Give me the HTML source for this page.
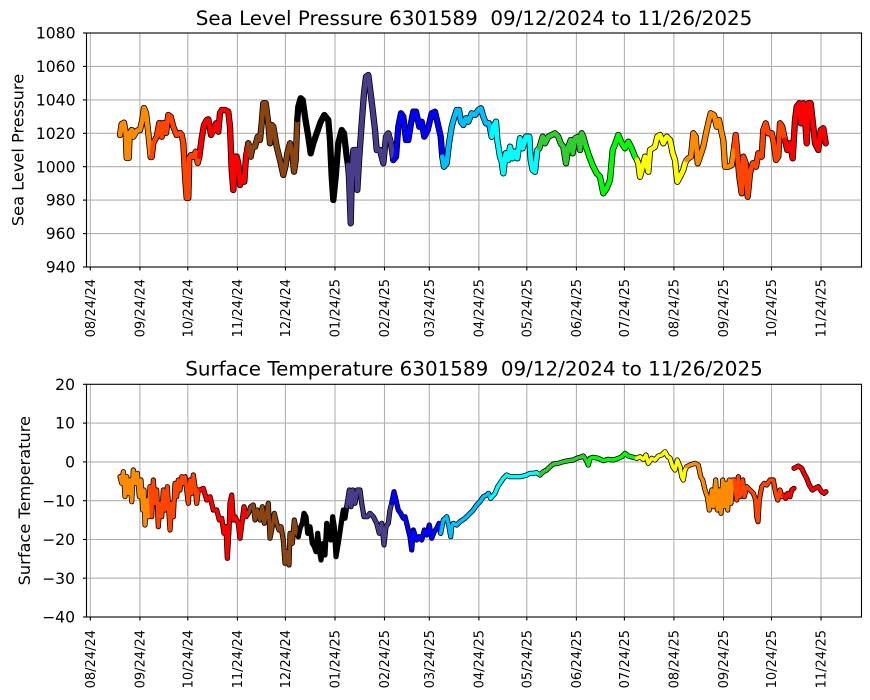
<!DOCTYPE html>
<html><head><meta charset="utf-8"><style>
html,body{margin:0;padding:0;background:#fff;}
svg{display:block;font-family:"DejaVu Sans","Liberation Sans",sans-serif;}
.g{stroke:#b0b0b0;stroke-width:1.1;}
.ax{fill:none;stroke:#000;stroke-width:1.1;}
.tk{stroke:#000;stroke-width:1.1;}
.yt{font-size:15.6px;text-anchor:end;}
.xt{font-size:13px;text-anchor:end;}
.ti{font-size:19.9px;text-anchor:middle;white-space:pre;}
.yl{font-size:16.2px;text-anchor:middle;}
.b1 polyline{fill:none;stroke:#000;stroke-width:6.3;stroke-linejoin:round;stroke-linecap:round;}
.c1 polyline{fill:none;stroke-width:4.7;stroke-linejoin:round;stroke-linecap:round;}
.b2 polyline{fill:none;stroke:#000;stroke-width:5.2;stroke-linejoin:round;stroke-linecap:round;}
.c2 polyline{fill:none;stroke-width:3.6;stroke-linejoin:round;stroke-linecap:round;}
</style></head><body>
<svg width="870" height="700" viewBox="0 0 870 700" xmlns="http://www.w3.org/2000/svg" xml:space="preserve">
<rect width="870" height="700" fill="#fff"/>

<!-- ================= TOP CHART ================= -->
<g>
<g class="g">
<line x1="90.3" y1="33" x2="90.3" y2="267"/><line x1="139.9" y1="33" x2="139.9" y2="267"/><line x1="187.8" y1="33" x2="187.8" y2="267"/><line x1="237.4" y1="33" x2="237.4" y2="267"/><line x1="285.4" y1="33" x2="285.4" y2="267"/><line x1="335" y1="33" x2="335" y2="267"/><line x1="384.5" y1="33" x2="384.5" y2="267"/><line x1="429.3" y1="33" x2="429.3" y2="267"/><line x1="478.9" y1="33" x2="478.9" y2="267"/><line x1="526.8" y1="33" x2="526.8" y2="267"/><line x1="576.4" y1="33" x2="576.4" y2="267"/><line x1="624.4" y1="33" x2="624.4" y2="267"/><line x1="673.9" y1="33" x2="673.9" y2="267"/><line x1="723.5" y1="33" x2="723.5" y2="267"/><line x1="771.5" y1="33" x2="771.5" y2="267"/><line x1="821" y1="33" x2="821" y2="267"/>
<line x1="86.5" y1="66.4" x2="861.5" y2="66.4"/><line x1="86.5" y1="99.9" x2="861.5" y2="99.9"/><line x1="86.5" y1="133.3" x2="861.5" y2="133.3"/><line x1="86.5" y1="166.7" x2="861.5" y2="166.7"/><line x1="86.5" y1="200.1" x2="861.5" y2="200.1"/><line x1="86.5" y1="233.6" x2="861.5" y2="233.6"/>
</g>
<g class="b1">
<polyline points="120,135 121.7,124 124,122.7 125.7,133 126.7,158 128.7,158 129.7,133 131.7,130 133.3,136.7 136.7,130.7 140,130 142.3,120 144,108 146,113 148.3,133 150.7,157"/>
<polyline points="150.7,157 151.7,157 153.3,143 156.7,136.7 159.3,123 161.7,136.7 163.3,123 166,133 168.3,115 170.7,116.7 173.3,126.7 176.7,135 180,133 181.7,135 183.3,143 185.3,180 186.7,198 188.3,198 189.3,158 191,155 193.3,156.7 195.7,151.7 197.7,163 199.3,156.7"/>
<polyline points="199.3,156.7 201.7,138.3 204,125 206.7,120 208.3,119.3 211,135 213.3,130 216,123.3 218.3,131.7 220,113 221.7,110 225,110 228.3,111.7 230,126.7 231.7,170 233.3,190 235,156.7 236.7,156.7 238.3,163.3 240,185 242.3,176.7 244.3,181.7 246,156.7 248.3,143.3"/>
<polyline points="248.3,143.3 250.7,156.7 252.7,146.7 255,146.7 257.7,136.7 260,140 261.7,123.3 263.3,103.3 265.7,103.3 268.3,123.3 270,143.3 271.7,125 273.3,126.7 275,136.7 276.7,146.7 280,160 283.3,175 285.7,165 287.3,153.3 290,143.3 292.3,153.3 294,171.7 295.7,160 297.3,120"/>
<polyline points="297.3,120 298.3,106.7 300.7,98.3 302.7,100 305,116.7 308.3,136.7 310.7,153.3 313.3,143.3 316.7,133.3 320.7,121.7 324.3,115 328.3,120 330,140 331.7,176.7 333.3,200 335.7,176.7 338.3,143.3 341.7,130 344,133.3 346.7,156.7 348,165"/>
<polyline points="348,165 349,176.7 350.7,223.3 351.7,180 353.3,150 356,150 357.3,190 359.3,156.7 361.7,123.3 364,93.3 366,76.7 368.3,75 370,88.3 372.7,110 375,130 376.7,150 380,150 383.3,163.3 386,136.7 388.3,133.3 391,143.3 393.3,160"/>
<polyline points="393.3,160 396,156.7 398.3,126.7 401,113.3 403.3,116.7 406,140 408.3,140 411,123.3 413.3,111.7 416,111.7 419.3,126.7 421.7,121.7 424.3,136.7 427.7,130 431.7,113.3 435,111.7 437.7,123.3 440.7,136.7 442.3,156.7"/>
<polyline points="442.3,156.7 444,166.7 446.7,163.3 449,143.3 451.7,126.7 454,118.3 456.7,110 459,110 461,121.7 463.3,125 466,118.3 468.3,121.7 471.7,113.3 475,115 478.3,110 481,108.3 483.3,116.7 486,123.3 489,123.3 491.7,136.7"/>
<polyline points="491.7,136.7 493.3,126.7 496,121.7 497.3,140 500,156.7 501.7,161.7 503.3,173.3 505.7,153.3 508.3,160 510,146.7 512.7,158.3 515,151.7 517.3,158.3 520,138.3 522.7,148.3 526,136.7 529.3,136.7 530.7,160 532.7,170 535,171.7 537.3,150 539.3,148.3"/>
<polyline points="539.3,148.3 542.7,136.7 545,143.3 548.3,136.7 551.7,135 555,133.3 558.3,136.7 560.7,143.3 563.3,146.7 566,163.3 568.3,146.7 570.7,140 572.7,153.3 575,138.3 578.3,136.7 580,150 581.7,133.3 583.3,136.7 586,146.7"/>
<polyline points="586,146.7 589.3,156.7 593.3,166.7 596.7,173.3 600,176.7 603.3,193.3 606.7,188.3 610,180 612.7,150 616,141.7 618.3,135 621.7,143.3 625,148.3 628.3,141.7 631.7,148.3 635,156.7 637,160"/>
<polyline points="637,160 638.3,163.3 640,176.7 642.7,166.7 645,156.7 648.3,171.7 650,150 655,146.7 657.3,136.7 660,135 663.3,143.3 666.7,136.7 670,140 672.7,153.3 675,160 677.3,181.7 680,176.7 683.3,170 685,163.3 686.7,160"/>
<polyline points="686.7,160 688.3,158.3 691,156.7 693.3,133.3 695.7,136.7 697.7,163.3 700,156.7 703.3,146.7 706,133.3 708.3,123.3 710.7,113.3 714,115 716.7,126.7 719,120 721.7,133.3 723.3,140 725,166.7 728.3,166.7 731.7,165 734.3,146.7"/>
<polyline points="734.3,146.7 735.7,135 737.3,153.3 739.3,176.7 741.7,193.3 743.3,156.7 745.7,163.3 747.7,196.7 750,173.3 752.7,163.3 756,166.7 758.3,153.3 761.7,156.7 763.3,130 765.7,123.3 768.3,133.3 771.7,133.3 773.3,140 776,160 778.3,156.7 780,123.3 782.3,126.7 785,140"/>
<polyline points="785,140 787.3,150 790,143.3 792.7,158.3 795,120 796.7,106.7 799.3,103.3 801,123.3 803.3,103.3 805.3,123.3 806.7,143.3 808.3,103.3 810.7,103.3 813.3,126.7 815,143.3 818.3,150 820.7,130 823.3,128.3 825.7,143.3"/>
</g>
<g class="c1">
<polyline stroke="#FF8C00" points="120,135 121.7,124 124,122.7 125.7,133 126.7,158 128.7,158 129.7,133 131.7,130 133.3,136.7 136.7,130.7 140,130 142.3,120 144,108 146,113 148.3,133 150.7,157"/>
<polyline stroke="#FF4500" points="150.7,157 151.7,157 153.3,143 156.7,136.7 159.3,123 161.7,136.7 163.3,123 166,133 168.3,115 170.7,116.7 173.3,126.7 176.7,135 180,133 181.7,135 183.3,143 185.3,180 186.7,198 188.3,198 189.3,158 191,155 193.3,156.7 195.7,151.7 197.7,163 199.3,156.7"/>
<polyline stroke="#FF0000" points="199.3,156.7 201.7,138.3 204,125 206.7,120 208.3,119.3 211,135 213.3,130 216,123.3 218.3,131.7 220,113 221.7,110 225,110 228.3,111.7 230,126.7 231.7,170 233.3,190 235,156.7 236.7,156.7 238.3,163.3 240,185 242.3,176.7 244.3,181.7 246,156.7 248.3,143.3"/>
<polyline stroke="#8B4513" points="248.3,143.3 250.7,156.7 252.7,146.7 255,146.7 257.7,136.7 260,140 261.7,123.3 263.3,103.3 265.7,103.3 268.3,123.3 270,143.3 271.7,125 273.3,126.7 275,136.7 276.7,146.7 280,160 283.3,175 285.7,165 287.3,153.3 290,143.3 292.3,153.3 294,171.7 295.7,160 297.3,120"/>
<polyline stroke="#000000" points="297.3,120 298.3,106.7 300.7,98.3 302.7,100 305,116.7 308.3,136.7 310.7,153.3 313.3,143.3 316.7,133.3 320.7,121.7 324.3,115 328.3,120 330,140 331.7,176.7 333.3,200 335.7,176.7 338.3,143.3 341.7,130 344,133.3 346.7,156.7 348,165"/>
<polyline stroke="#483D8B" points="348,165 349,176.7 350.7,223.3 351.7,180 353.3,150 356,150 357.3,190 359.3,156.7 361.7,123.3 364,93.3 366,76.7 368.3,75 370,88.3 372.7,110 375,130 376.7,150 380,150 383.3,163.3 386,136.7 388.3,133.3 391,143.3 393.3,160"/>
<polyline stroke="#0000FF" points="393.3,160 396,156.7 398.3,126.7 401,113.3 403.3,116.7 406,140 408.3,140 411,123.3 413.3,111.7 416,111.7 419.3,126.7 421.7,121.7 424.3,136.7 427.7,130 431.7,113.3 435,111.7 437.7,123.3 440.7,136.7 442.3,156.7"/>
<polyline stroke="#00BFFF" points="442.3,156.7 444,166.7 446.7,163.3 449,143.3 451.7,126.7 454,118.3 456.7,110 459,110 461,121.7 463.3,125 466,118.3 468.3,121.7 471.7,113.3 475,115 478.3,110 481,108.3 483.3,116.7 486,123.3 489,123.3 491.7,136.7"/>
<polyline stroke="#00FFFF" points="491.7,136.7 493.3,126.7 496,121.7 497.3,140 500,156.7 501.7,161.7 503.3,173.3 505.7,153.3 508.3,160 510,146.7 512.7,158.3 515,151.7 517.3,158.3 520,138.3 522.7,148.3 526,136.7 529.3,136.7 530.7,160 532.7,170 535,171.7 537.3,150 539.3,148.3"/>
<polyline stroke="#32CD32" points="539.3,148.3 542.7,136.7 545,143.3 548.3,136.7 551.7,135 555,133.3 558.3,136.7 560.7,143.3 563.3,146.7 566,163.3 568.3,146.7 570.7,140 572.7,153.3 575,138.3 578.3,136.7 580,150 581.7,133.3 583.3,136.7 586,146.7"/>
<polyline stroke="#00FF00" points="586,146.7 589.3,156.7 593.3,166.7 596.7,173.3 600,176.7 603.3,193.3 606.7,188.3 610,180 612.7,150 616,141.7 618.3,135 621.7,143.3 625,148.3 628.3,141.7 631.7,148.3 635,156.7 637,160"/>
<polyline stroke="#FFFF00" points="637,160 638.3,163.3 640,176.7 642.7,166.7 645,156.7 648.3,171.7 650,150 655,146.7 657.3,136.7 660,135 663.3,143.3 666.7,136.7 670,140 672.7,153.3 675,160 677.3,181.7 680,176.7 683.3,170 685,163.3 686.7,160"/>
<polyline stroke="#FF8C00" points="686.7,160 688.3,158.3 691,156.7 693.3,133.3 695.7,136.7 697.7,163.3 700,156.7 703.3,146.7 706,133.3 708.3,123.3 710.7,113.3 714,115 716.7,126.7 719,120 721.7,133.3 723.3,140 725,166.7 728.3,166.7 731.7,165 734.3,146.7"/>
<polyline stroke="#FF4500" points="734.3,146.7 735.7,135 737.3,153.3 739.3,176.7 741.7,193.3 743.3,156.7 745.7,163.3 747.7,196.7 750,173.3 752.7,163.3 756,166.7 758.3,153.3 761.7,156.7 763.3,130 765.7,123.3 768.3,133.3 771.7,133.3 773.3,140 776,160 778.3,156.7 780,123.3 782.3,126.7 785,140"/>
<polyline stroke="#FF0000" points="785,140 787.3,150 790,143.3 792.7,158.3 795,120 796.7,106.7 799.3,103.3 801,123.3 803.3,103.3 805.3,123.3 806.7,143.3 808.3,103.3 810.7,103.3 813.3,126.7 815,143.3 818.3,150 820.7,130 823.3,128.3 825.7,143.3"/>
</g>
<rect class="ax" x="86.5" y="33" width="775" height="234"/>
<g class="tk">
<line x1="83" y1="33" x2="86.5" y2="33"/><line x1="83" y1="66.4" x2="86.5" y2="66.4"/><line x1="83" y1="99.9" x2="86.5" y2="99.9"/><line x1="83" y1="133.3" x2="86.5" y2="133.3"/><line x1="83" y1="166.7" x2="86.5" y2="166.7"/><line x1="83" y1="200.1" x2="86.5" y2="200.1"/><line x1="83" y1="233.6" x2="86.5" y2="233.6"/><line x1="83" y1="267" x2="86.5" y2="267"/>
<line x1="90.3" y1="267" x2="90.3" y2="270.5"/><line x1="139.9" y1="267" x2="139.9" y2="270.5"/><line x1="187.8" y1="267" x2="187.8" y2="270.5"/><line x1="237.4" y1="267" x2="237.4" y2="270.5"/><line x1="285.4" y1="267" x2="285.4" y2="270.5"/><line x1="335" y1="267" x2="335" y2="270.5"/><line x1="384.5" y1="267" x2="384.5" y2="270.5"/><line x1="429.3" y1="267" x2="429.3" y2="270.5"/><line x1="478.9" y1="267" x2="478.9" y2="270.5"/><line x1="526.8" y1="267" x2="526.8" y2="270.5"/><line x1="576.4" y1="267" x2="576.4" y2="270.5"/><line x1="624.4" y1="267" x2="624.4" y2="270.5"/><line x1="673.9" y1="267" x2="673.9" y2="270.5"/><line x1="723.5" y1="267" x2="723.5" y2="270.5"/><line x1="771.5" y1="267" x2="771.5" y2="270.5"/><line x1="821" y1="267" x2="821" y2="270.5"/>
</g>
<g class="yt">
<text x="75.5" y="38.6">1080</text><text x="75.5" y="72">1060</text><text x="75.5" y="105.5">1040</text><text x="75.5" y="138.9">1020</text><text x="75.5" y="172.3">1000</text><text x="75.5" y="205.7">980</text><text x="75.5" y="239.2">960</text><text x="75.5" y="272.6">940</text>
</g>
<g class="xt">
<text transform="translate(90.3,279) rotate(-90)" dy="0.36em">08/24/24</text>
<text transform="translate(139.9,279) rotate(-90)" dy="0.36em">09/24/24</text>
<text transform="translate(187.8,279) rotate(-90)" dy="0.36em">10/24/24</text>
<text transform="translate(237.4,279) rotate(-90)" dy="0.36em">11/24/24</text>
<text transform="translate(285.4,279) rotate(-90)" dy="0.36em">12/24/24</text>
<text transform="translate(335,279) rotate(-90)" dy="0.36em">01/24/25</text>
<text transform="translate(384.5,279) rotate(-90)" dy="0.36em">02/24/25</text>
<text transform="translate(429.3,279) rotate(-90)" dy="0.36em">03/24/25</text>
<text transform="translate(478.9,279) rotate(-90)" dy="0.36em">04/24/25</text>
<text transform="translate(526.8,279) rotate(-90)" dy="0.36em">05/24/25</text>
<text transform="translate(576.4,279) rotate(-90)" dy="0.36em">06/24/25</text>
<text transform="translate(624.4,279) rotate(-90)" dy="0.36em">07/24/25</text>
<text transform="translate(673.9,279) rotate(-90)" dy="0.36em">08/24/25</text>
<text transform="translate(723.5,279) rotate(-90)" dy="0.36em">09/24/25</text>
<text transform="translate(771.5,279) rotate(-90)" dy="0.36em">10/24/25</text>
<text transform="translate(821,279) rotate(-90)" dy="0.36em">11/24/25</text>
</g>
<text class="ti" x="474" y="25">Sea Level Pressure 6301589  09/12/2024 to 11/26/2025</text>
<text class="yl" transform="translate(17.5,150) rotate(-90)" dy="0.36em">Sea Level Pressure</text>
</g>

<!-- ================= BOTTOM CHART ================= -->
<g>
<g class="g">
<line x1="90.3" y1="384.3" x2="90.3" y2="617"/><line x1="139.9" y1="384.3" x2="139.9" y2="617"/><line x1="187.8" y1="384.3" x2="187.8" y2="617"/><line x1="237.4" y1="384.3" x2="237.4" y2="617"/><line x1="285.4" y1="384.3" x2="285.4" y2="617"/><line x1="335" y1="384.3" x2="335" y2="617"/><line x1="384.5" y1="384.3" x2="384.5" y2="617"/><line x1="429.3" y1="384.3" x2="429.3" y2="617"/><line x1="478.9" y1="384.3" x2="478.9" y2="617"/><line x1="526.8" y1="384.3" x2="526.8" y2="617"/><line x1="576.4" y1="384.3" x2="576.4" y2="617"/><line x1="624.4" y1="384.3" x2="624.4" y2="617"/><line x1="673.9" y1="384.3" x2="673.9" y2="617"/><line x1="723.5" y1="384.3" x2="723.5" y2="617"/><line x1="771.5" y1="384.3" x2="771.5" y2="617"/><line x1="821" y1="384.3" x2="821" y2="617"/>
<line x1="86.5" y1="423.1" x2="861.5" y2="423.1"/><line x1="86.5" y1="461.9" x2="861.5" y2="461.9"/><line x1="86.5" y1="500.7" x2="861.5" y2="500.7"/><line x1="86.5" y1="539.5" x2="861.5" y2="539.5"/><line x1="86.5" y1="578.2" x2="861.5" y2="578.2"/>
</g>
<g class="b2">
<polyline points="120,476.7 121.7,483.3 123.3,471.7 125,496.7 126.7,476.7 128.3,493.3 130,480 131.7,501.7 133.3,470 135.7,483.3 137.3,473.3 139.3,496.7 141,480 142.7,510 144,490 145,525 146.7,500 148.3,516.7 150,486.7"/>
<polyline points="150,486.7 151.7,516.7 153.3,480 155,503.3 156.7,490 158.3,526.7 160,503.3 161.7,516.7 163.3,490 165,510 167.3,486.7 170,530 171.7,503.3 173.3,516.7 175,483.3 176.7,496.7 178.3,480 180,490 181.7,476.7 183.3,483.3 185,476.7 186.7,490 188.3,503.3 190,480 191.7,493.3 193.3,475 195,486.7 196.7,503.3 198.3,490 200,490"/>
<polyline points="200,490 203.3,488.3 206.7,500 210,496.7 213.3,510 216.7,510 219.3,520 221.7,518.3 224,533.3 226,526.7 227.3,558.3 229,530 230,503.3 231.7,495 233.3,520 235,516.7 238.3,523.3 240,538.3 242.3,520 244,506.7 246,516.7 248.3,513.3"/>
<polyline points="248.3,513.3 250.7,506.7 253.3,505 255,520 257.3,510 260,520 262.3,506.7 264.3,523.3 266.7,513.3 268.3,503.3 270,538.3 272.3,526.7 274.3,513.3 276.7,523.3 279,530 281,526.7 283.3,540 285,563.3 286.7,551.7 289,565 290,533.3 292.3,543.3 294.3,520 296.7,533.3 298.3,536.7"/>
<polyline points="298.3,536.7 300,528.3 302.3,523.3 304,513.3 306,516.7 307.7,533.3 310,526.7 312.3,543.3 314.3,546.7 316,551.7 317.7,533.3 319.3,550 321,560 323.3,543.3 325,555 326.7,523.3 328.3,536.7 330.7,540 332.7,516.7 334.3,526.7 336,556.7 337.7,546.7 339.3,536.7 341.7,520 343.3,510 345,518.3 346.7,506.7"/>
<polyline points="346.7,506.7 349.3,490 351,506.7 352.7,490 355,503.3 357.3,490 360,490 361.7,503.3 364,516.7 367.3,516.7 370,513.3 373.3,516.7 376.7,523.3 379.3,533.3 381.7,523.3 384,545 386,526.7 388.3,523.3 390,510 391.7,503.3"/>
<polyline points="391.7,503.3 394,491.7 396,500 398.3,510 400.7,513.3 403.3,518.3 405,516.7 406.7,523.3 408.3,530 410,536.7 411.7,550 413.3,530 416.7,540 419.3,536.7 421.7,540 424.3,530 426.7,535 429.3,525 431.7,538.3 434.3,531.7 436.7,528.3 439,523.3 440.7,533.3"/>
<polyline points="440.7,533.3 443.3,520 446.7,516.7 449,526.7 450.7,536.7 451.7,526.7 453.3,523.3 456.7,525 460,521.7 465,518.3 470,513.3 473.3,510 476.7,505 480,501.7 483.3,496.7 486.7,495 488.3,493.3 490.7,498.3"/>
<polyline points="490.7,498.3 495,493.3 497.7,486.7 500,483.3 503.3,478.3 506.7,475 510,476.7 515,476.7 520,476.7 523.3,476 526.7,475 530,473.3 533.3,473.3 536.7,472.7 540,475"/>
<polyline points="540,475 543.3,471.7 546.7,470 550,466.7 553.3,464 558.3,463.3 563.3,461.7 568.3,460.7 573.3,460 576.7,458.3 580,457.3 583.3,456 586,460 588.3,465"/>
<polyline points="588.3,465 590,458.3 593.3,457.3 598.3,458.3 603.3,460.7 608.3,459.3 613.3,460 618.3,458.3 621.7,456.7 625,453.3 628.3,456 633.3,457.3 636.7,458.3"/>
<polyline points="636.7,458.3 640,456.7 643.3,459.3 646,455 648.3,463.3 651.7,458.3 655,460 658.3,456 661.7,455 665,451.7 667.7,456.7 670,458 672.7,466.7 675,470 677.3,460 680,466.7 681.7,476.7 683.3,480 685,470 686.7,466.7"/>
<polyline points="686.7,466.7 690,465 695,463.3 698.3,465 700.7,476.7 702.7,480 705,490 707.3,496.7 709.3,510 711.7,490 713.3,506.7 715.7,480 717.3,510 719.3,490 721,513.3 722.7,480 724.3,506.7 726,483.3 727.7,510 729.3,480 731,503.3 732.7,480 734.3,480"/>
<polyline points="734.3,480 736.7,500 738.3,476.7 740,496.7 742.7,480 744.3,496.7 746.7,486.7 750,490 753.3,493.3 755.7,500 756.7,516.7 758,521.7 759.3,500 761.7,486.7 764.3,483.3 766.7,485 770,480 773.3,480 775.7,493.3 777.7,500 780,490 781.7,496.7 783.3,495"/>
<polyline points="783.3,495 785.7,498.3 787.7,493.3 790,496.7 791.7,490 794,488.3"/>
<polyline points="794,468.3 798.3,466 801.7,468.3 804,473.3 806.7,478.3 809.3,485 812.3,490 815,488.3 818.3,486.7 821.7,491.7 824,493.3 826,491.7"/>
</g>
<g class="c2">
<polyline stroke="#FF8C00" points="120,476.7 121.7,483.3 123.3,471.7 125,496.7 126.7,476.7 128.3,493.3 130,480 131.7,501.7 133.3,470 135.7,483.3 137.3,473.3 139.3,496.7 141,480 142.7,510 144,490 145,525 146.7,500 148.3,516.7 150,486.7"/>
<polyline stroke="#FF4500" points="150,486.7 151.7,516.7 153.3,480 155,503.3 156.7,490 158.3,526.7 160,503.3 161.7,516.7 163.3,490 165,510 167.3,486.7 170,530 171.7,503.3 173.3,516.7 175,483.3 176.7,496.7 178.3,480 180,490 181.7,476.7 183.3,483.3 185,476.7 186.7,490 188.3,503.3 190,480 191.7,493.3 193.3,475 195,486.7 196.7,503.3 198.3,490 200,490"/>
<polyline stroke="#FF0000" points="200,490 203.3,488.3 206.7,500 210,496.7 213.3,510 216.7,510 219.3,520 221.7,518.3 224,533.3 226,526.7 227.3,558.3 229,530 230,503.3 231.7,495 233.3,520 235,516.7 238.3,523.3 240,538.3 242.3,520 244,506.7 246,516.7 248.3,513.3"/>
<polyline stroke="#8B4513" points="248.3,513.3 250.7,506.7 253.3,505 255,520 257.3,510 260,520 262.3,506.7 264.3,523.3 266.7,513.3 268.3,503.3 270,538.3 272.3,526.7 274.3,513.3 276.7,523.3 279,530 281,526.7 283.3,540 285,563.3 286.7,551.7 289,565 290,533.3 292.3,543.3 294.3,520 296.7,533.3 298.3,536.7"/>
<polyline stroke="#000000" points="298.3,536.7 300,528.3 302.3,523.3 304,513.3 306,516.7 307.7,533.3 310,526.7 312.3,543.3 314.3,546.7 316,551.7 317.7,533.3 319.3,550 321,560 323.3,543.3 325,555 326.7,523.3 328.3,536.7 330.7,540 332.7,516.7 334.3,526.7 336,556.7 337.7,546.7 339.3,536.7 341.7,520 343.3,510 345,518.3 346.7,506.7"/>
<polyline stroke="#483D8B" points="346.7,506.7 349.3,490 351,506.7 352.7,490 355,503.3 357.3,490 360,490 361.7,503.3 364,516.7 367.3,516.7 370,513.3 373.3,516.7 376.7,523.3 379.3,533.3 381.7,523.3 384,545 386,526.7 388.3,523.3 390,510 391.7,503.3"/>
<polyline stroke="#0000FF" points="391.7,503.3 394,491.7 396,500 398.3,510 400.7,513.3 403.3,518.3 405,516.7 406.7,523.3 408.3,530 410,536.7 411.7,550 413.3,530 416.7,540 419.3,536.7 421.7,540 424.3,530 426.7,535 429.3,525 431.7,538.3 434.3,531.7 436.7,528.3 439,523.3 440.7,533.3"/>
<polyline stroke="#00BFFF" points="440.7,533.3 443.3,520 446.7,516.7 449,526.7 450.7,536.7 451.7,526.7 453.3,523.3 456.7,525 460,521.7 465,518.3 470,513.3 473.3,510 476.7,505 480,501.7 483.3,496.7 486.7,495 488.3,493.3 490.7,498.3"/>
<polyline stroke="#00FFFF" points="490.7,498.3 495,493.3 497.7,486.7 500,483.3 503.3,478.3 506.7,475 510,476.7 515,476.7 520,476.7 523.3,476 526.7,475 530,473.3 533.3,473.3 536.7,472.7 540,475"/>
<polyline stroke="#32CD32" points="540,475 543.3,471.7 546.7,470 550,466.7 553.3,464 558.3,463.3 563.3,461.7 568.3,460.7 573.3,460 576.7,458.3 580,457.3 583.3,456 586,460 588.3,465"/>
<polyline stroke="#00FF00" points="588.3,465 590,458.3 593.3,457.3 598.3,458.3 603.3,460.7 608.3,459.3 613.3,460 618.3,458.3 621.7,456.7 625,453.3 628.3,456 633.3,457.3 636.7,458.3"/>
<polyline stroke="#FFFF00" points="636.7,458.3 640,456.7 643.3,459.3 646,455 648.3,463.3 651.7,458.3 655,460 658.3,456 661.7,455 665,451.7 667.7,456.7 670,458 672.7,466.7 675,470 677.3,460 680,466.7 681.7,476.7 683.3,480 685,470 686.7,466.7"/>
<polyline stroke="#FF8C00" points="686.7,466.7 690,465 695,463.3 698.3,465 700.7,476.7 702.7,480 705,490 707.3,496.7 709.3,510 711.7,490 713.3,506.7 715.7,480 717.3,510 719.3,490 721,513.3 722.7,480 724.3,506.7 726,483.3 727.7,510 729.3,480 731,503.3 732.7,480 734.3,480"/>
<polyline stroke="#FF4500" points="734.3,480 736.7,500 738.3,476.7 740,496.7 742.7,480 744.3,496.7 746.7,486.7 750,490 753.3,493.3 755.7,500 756.7,516.7 758,521.7 759.3,500 761.7,486.7 764.3,483.3 766.7,485 770,480 773.3,480 775.7,493.3 777.7,500 780,490 781.7,496.7 783.3,495"/>
<polyline stroke="#FF0000" points="783.3,495 785.7,498.3 787.7,493.3 790,496.7 791.7,490 794,488.3"/>
<polyline stroke="#FF0000" points="794,468.3 798.3,466 801.7,468.3 804,473.3 806.7,478.3 809.3,485 812.3,490 815,488.3 818.3,486.7 821.7,491.7 824,493.3 826,491.7"/>
</g>
<rect class="ax" x="86.5" y="384.3" width="775" height="232.7"/>
<g class="tk">
<line x1="83" y1="384.3" x2="86.5" y2="384.3"/><line x1="83" y1="423.1" x2="86.5" y2="423.1"/><line x1="83" y1="461.9" x2="86.5" y2="461.9"/><line x1="83" y1="500.7" x2="86.5" y2="500.7"/><line x1="83" y1="539.5" x2="86.5" y2="539.5"/><line x1="83" y1="578.2" x2="86.5" y2="578.2"/><line x1="83" y1="617" x2="86.5" y2="617"/>
<line x1="90.3" y1="617" x2="90.3" y2="620.5"/><line x1="139.9" y1="617" x2="139.9" y2="620.5"/><line x1="187.8" y1="617" x2="187.8" y2="620.5"/><line x1="237.4" y1="617" x2="237.4" y2="620.5"/><line x1="285.4" y1="617" x2="285.4" y2="620.5"/><line x1="335" y1="617" x2="335" y2="620.5"/><line x1="384.5" y1="617" x2="384.5" y2="620.5"/><line x1="429.3" y1="617" x2="429.3" y2="620.5"/><line x1="478.9" y1="617" x2="478.9" y2="620.5"/><line x1="526.8" y1="617" x2="526.8" y2="620.5"/><line x1="576.4" y1="617" x2="576.4" y2="620.5"/><line x1="624.4" y1="617" x2="624.4" y2="620.5"/><line x1="673.9" y1="617" x2="673.9" y2="620.5"/><line x1="723.5" y1="617" x2="723.5" y2="620.5"/><line x1="771.5" y1="617" x2="771.5" y2="620.5"/><line x1="821" y1="617" x2="821" y2="620.5"/>
</g>
<g class="yt">
<text x="75" y="389.9">20</text><text x="75" y="428.7">10</text><text x="75" y="467.5">0</text><text x="75" y="506.3">−10</text><text x="75" y="545.1">−20</text><text x="75" y="583.8">−30</text><text x="75" y="622.6">−40</text>
</g>
<g class="xt">
<text transform="translate(90.3,630) rotate(-90)" dy="0.36em">08/24/24</text>
<text transform="translate(139.9,630) rotate(-90)" dy="0.36em">09/24/24</text>
<text transform="translate(187.8,630) rotate(-90)" dy="0.36em">10/24/24</text>
<text transform="translate(237.4,630) rotate(-90)" dy="0.36em">11/24/24</text>
<text transform="translate(285.4,630) rotate(-90)" dy="0.36em">12/24/24</text>
<text transform="translate(335,630) rotate(-90)" dy="0.36em">01/24/25</text>
<text transform="translate(384.5,630) rotate(-90)" dy="0.36em">02/24/25</text>
<text transform="translate(429.3,630) rotate(-90)" dy="0.36em">03/24/25</text>
<text transform="translate(478.9,630) rotate(-90)" dy="0.36em">04/24/25</text>
<text transform="translate(526.8,630) rotate(-90)" dy="0.36em">05/24/25</text>
<text transform="translate(576.4,630) rotate(-90)" dy="0.36em">06/24/25</text>
<text transform="translate(624.4,630) rotate(-90)" dy="0.36em">07/24/25</text>
<text transform="translate(673.9,630) rotate(-90)" dy="0.36em">08/24/25</text>
<text transform="translate(723.5,630) rotate(-90)" dy="0.36em">09/24/25</text>
<text transform="translate(771.5,630) rotate(-90)" dy="0.36em">10/24/25</text>
<text transform="translate(821,630) rotate(-90)" dy="0.36em">11/24/25</text>
</g>
<text class="ti" x="474" y="375.5">Surface Temperature 6301589  09/12/2024 to 11/26/2025</text>
<text class="yl" transform="translate(24.2,500.7) rotate(-90)" dy="0.36em">Surface Temperature</text>
</g>
</svg>
</body></html>
